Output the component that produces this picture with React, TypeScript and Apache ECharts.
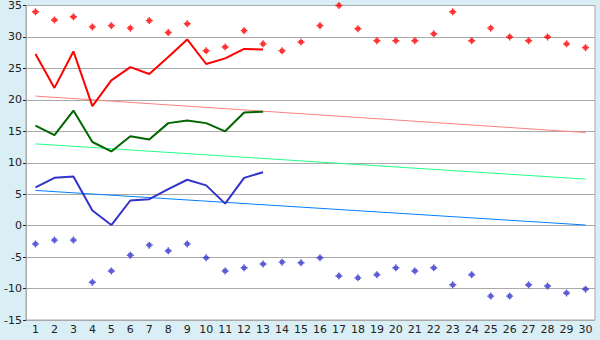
import React, { useEffect, useRef } from "react";
import * as echarts from "echarts";

const categories = Array.from({ length: 30 }, (_, i) => String(i + 1));

const maxPoints = [34.0, 32.7, 33.2, 31.6, 31.8, 31.4, 32.6, 30.7, 32.1, 27.8, 28.4, 31.0, 28.9, 27.8, 29.2, 31.8, 35.0, 31.3, 29.4, 29.4, 29.4, 30.5, 34.0, 29.4, 31.4, 30.0, 29.4, 30.0, 28.9, 28.3];
const minPoints = [-2.9, -2.3, -2.3, -9.0, -7.2, -4.7, -3.1, -4.0, -2.9, -5.1, -7.2, -6.7, -6.1, -5.8, -5.9, -5.1, -8.0, -8.3, -7.8, -6.7, -7.2, -6.7, -9.4, -7.8, -11.2, -11.2, -9.4, -9.6, -10.7, -10.1];

const redLine = [27.3, 21.9, 27.7, 19.0, 23.1, 25.2, 24.1, 26.8, 29.6, 25.7, 26.6, 28.1, 28.0];
const greenLine = [15.9, 14.4, 18.3, 13.3, 11.8, 14.2, 13.7, 16.3, 16.7, 16.3, 15.0, 18.0, 18.1];
const blueLine = [6.1, 7.6, 7.8, 2.4, 0.1, 4.0, 4.2, 5.8, 7.3, 6.4, 3.5, 7.6, 8.5];

const redTrend = [["1", 20.6], ["30", 14.8]];
const greenTrend = [["1", 13.0], ["30", 7.4]];
const blueTrend = [["1", 5.6], ["30", 0.1]];

const yTicks = { min: -15, max: 35, interval: 5 };

const markerSymbol = "path://M2,0H3V1H4V2H5V3H4V4H3V5H2V4H1V3H0V2H1V1H2Z";

export default function App() {
  const ref = useRef<HTMLDivElement>(null);
  useEffect(() => {
    if (!ref.current) return;
    const chart = echarts.init(ref.current, null, { renderer: "svg" });
    const font = "DejaVu Sans";
    chart.setOption({
      animation: false,
      backgroundColor: "#daeef5",
      textStyle: { fontFamily: font },
      grid: {
        left: 26,
        right: 5,
        top: 5,
        bottom: 20,
        show: true,
        backgroundColor: "#ffffff",
        borderColor: "#aaaaaa",
        borderWidth: 1,
      },
      xAxis: {
        type: "category",
        data: categories,
        boundaryGap: true,
        axisLine: { lineStyle: { color: "#aaaaaa", width: 1 } },
        axisTick: { alignWithLabel: true, length: 4, lineStyle: { color: "#222" } },
        axisLabel: { color: "#222", fontSize: 11, fontFamily: font, margin: 4, interval: 0 },
        splitLine: { show: false },
      },
      yAxis: {
        type: "value",
        min: yTicks.min,
        max: yTicks.max,
        interval: yTicks.interval,
        axisLine: { show: true, lineStyle: { color: "#aaaaaa", width: 1 } },
        axisTick: { show: true, length: 3, lineStyle: { color: "#222" } },
        axisLabel: { color: "#222", fontSize: 11, fontFamily: font, margin: 4 },
        splitLine: { lineStyle: { color: "#aaaaaa", width: 1 } },
      },
      series: [
        { type: "line", data: redTrend, symbol: "none", lineStyle: { color: "#ff8080", width: 1 }, silent: true },
        { type: "line", data: greenTrend, symbol: "none", lineStyle: { color: "#22ff88", width: 1 }, silent: true },
        { type: "line", data: blueTrend, symbol: "none", lineStyle: { color: "#0080ff", width: 1 }, silent: true },
        { type: "line", data: redLine, symbol: "none", lineStyle: { color: "#ff0000", width: 2 } },
        { type: "line", data: greenLine, symbol: "none", lineStyle: { color: "#006600", width: 2 } },
        { type: "line", data: blueLine, symbol: "none", lineStyle: { color: "#3333cc", width: 2 } },
        { type: "scatter", data: maxPoints, symbol: markerSymbol, symbolSize: 7, itemStyle: { color: "#ff0000" } },
        { type: "scatter", data: minPoints, symbol: markerSymbol, symbolSize: 7, itemStyle: { color: "#3333cc" } },
      ],
    });
    return () => chart.dispose();
  }, []);
  return (
    <div
      ref={ref}
      style={{ position: "fixed", left: 0, top: 0, width: 600, height: 340 }}
    />
  );
}
